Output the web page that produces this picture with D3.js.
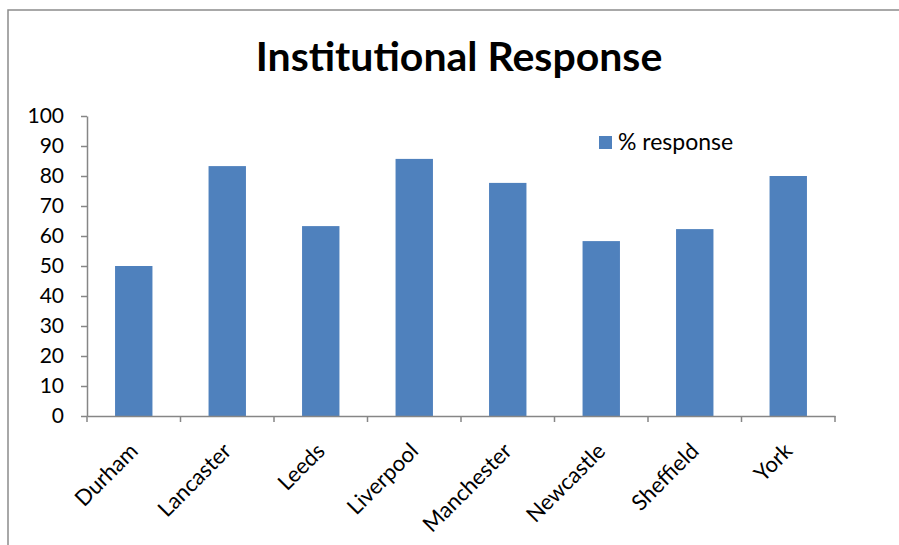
<!DOCTYPE html>
<html>
<head>
<meta charset="utf-8">
<style>
	body { margin: 0; background: #fff; }
	svg text { font-family: Lato, "Open Sans", sans-serif; fill: #000; }
	.axis path, .axis line { stroke: #868686; stroke-width: 1.5px; }
	.axis text { font-size: 21px; }
</style>
<script src="https://cdnjs.cloudflare.com/ajax/libs/d3/7.8.5/d3.min.js"></script>
</head>
<body>
<script>
	var universities = ["Durham", "Lancaster", "Leeds", "Liverpool", "Manchester", "Newcastle", "Sheffield", "York"];
	var response = [50, 83.3, 63.3, 85.7, 77.7, 58.3, 62.3, 80];
	var yTicks = [0, 10, 20, 30, 40, 50, 60, 70, 80, 90, 100];
	var seriesName = "% response";
	var title = "Institutional Response";

	var width = 899, height = 545;
	var plotLeft = 87, plotRight = 835, plotTop = 116, plotBottom = 416;

	var svg = d3.select("body").append("svg")
		.attr("width", width)
		.attr("height", height);

	// chart area frame
	svg.append("rect")
		.attr("x", 8).attr("y", 10)
		.attr("width", 920).attr("height", 560)
		.attr("fill", "none")
		.attr("stroke", "#8c8c8c")
		.attr("stroke-width", 1.5);

	var x = d3.scaleBand()
		.domain(universities)
		.range([plotLeft, plotRight])
		.paddingInner(0.6)
		.paddingOuter(0.3);

	var y = d3.scaleLinear()
		.domain([0, 100])
		.range([plotBottom, plotTop]);

	svg.append("text")
		.attr("x", 459).attr("y", 71)
		.attr("text-anchor", "middle")
		.style("font-size", "41px")
		.style("font-weight", "bold")
		.text(title);

	svg.selectAll("rect.bar")
		.data(universities)
		.enter().append("rect")
		.attr("class", "bar")
		.attr("x", function(d){ return x(d); })
		.attr("width", x.bandwidth())
		.attr("y", function(d, i){ return y(response[i]); })
		.attr("height", function(d, i){ return plotBottom - y(response[i]); })
		.attr("fill", "#4f81bd");

	var yAxis = d3.axisLeft(y).tickValues(yTicks).tickSize(6).tickPadding(17).tickSizeOuter(0);
	svg.append("g")
		.attr("class", "y axis")
		.attr("transform", "translate(" + plotLeft + ",0)")
		.call(yAxis);

	var step = x.step();
	var xAxis = d3.axisBottom(x).tickSize(0).tickSizeOuter(0).tickFormat("");
	var gx = svg.append("g")
		.attr("class", "x axis")
		.attr("transform", "translate(0," + plotBottom + ")")
		.call(xAxis);
	gx.selectAll(".tick").remove();

	// tick marks between categories
	gx.selectAll("line.sep")
		.data(d3.range(universities.length + 1))
		.enter().append("line")
		.attr("class", "sep")
		.attr("x1", function(i){ return plotLeft + i * step; })
		.attr("x2", function(i){ return plotLeft + i * step; })
		.attr("y1", 0).attr("y2", 6);

	gx.selectAll("text.cat")
		.data(universities)
		.enter().append("text")
		.attr("class", "cat")
		.attr("text-anchor", "end")
		.attr("dy", "0.35em")
		.style("font-size", "22px")
		.attr("transform", function(d){
			return "translate(" + (x(d) + x.bandwidth() / 2) + ",31) rotate(-45)";
		})
		.text(function(d){ return d; });

	// legend
	var legend = svg.append("g").attr("transform", "translate(599,136)");
	legend.append("rect")
		.attr("width", 13).attr("height", 13)
		.attr("fill", "#4f81bd");
	legend.append("text")
		.attr("x", 19).attr("y", 14)
		.style("font-size", "23px")
		.text(seriesName);
</script>
</body>
</html>
